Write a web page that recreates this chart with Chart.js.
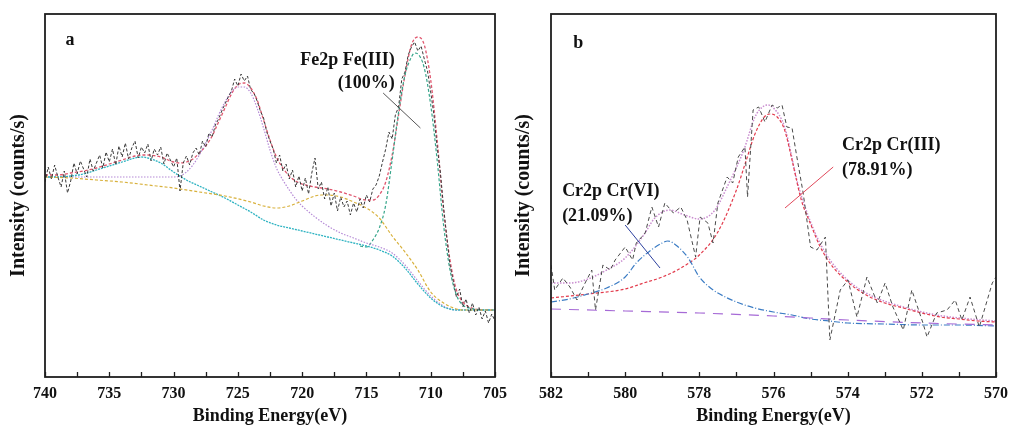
<!DOCTYPE html>
<html>
<head>
<meta charset="utf-8">
<script src="https://cdn.jsdelivr.net/npm/chart.js@4.4.1/dist/chart.umd.min.js"></script>
<style>
  body { margin: 0; background: #fff; width: 1012px; height: 433px; overflow: hidden; position: relative; }
  canvas { position: absolute; top: 0; }
  #chartA { left: 0; }
  #chartB { left: 500px; }
</style>
</head>
<body>
<canvas id="chartA" width="512" height="433"></canvas>
<canvas id="chartB" width="512" height="433"></canvas>
<script>
// ---- panel a : Fe2p ----
// raw spectrum, one value every 0.25 eV starting at 740 eV
const rawAStart = 740;
const rawAStep = 0.25;
const rawA = [
  195, 210, 198, 212, 200, 190, 206, 184, 196, 214, 203, 216, 208, 200, 218, 206,
  214, 222, 209, 225, 215, 228, 212, 231, 220, 234, 218, 229, 236, 219, 230, 224,
  233, 216, 228, 222, 230, 213, 224, 217, 210, 219, 186, 214, 221, 212, 224, 229,
  222, 236, 230, 244, 240, 252, 258, 266, 273, 280, 286, 298, 291, 303, 296, 301,
  287, 284, 276, 266, 259, 245, 236, 228, 214, 222, 206, 213, 198, 207, 190, 201,
  186, 199, 183, 204, 219, 188, 195, 178, 190, 171, 184, 166, 180, 170, 176, 162,
  174, 165, 178, 169, 182, 175, 188, 192, 201, 215, 228, 245, 238, 262, 270, 298,
  305, 322, 330, 335, 326, 331, 318, 306, 285, 262, 230, 205, 170, 140, 112, 96,
  80, 88, 70, 78, 64, 74, 62, 70, 58, 66, 54, 63, 56
];
// fitted envelope [eV, intensity]
const fitA = [
  [740, 202], [739, 202], [738, 204], [737, 206], [736, 209], [735, 213], [734, 217],
  [733, 221], [732.5, 222], [732, 222], [731, 220], [730, 215], [729.5, 214], [729, 215],
  [728.5, 218], [728, 224], [727.5, 231], [727, 241], [726.5, 255], [726, 269], [725.5, 283],
  [725, 292], [724.5, 294], [724, 289], [723.5, 277], [723, 257], [722.5, 237], [722, 220],
  [721.5, 209], [721, 201], [720.5, 196], [720, 193], [719, 190], [718, 188], [717, 185],
  [716, 181], [715, 177], [714.5, 177], [714, 182], [713.5, 195], [713, 222], [712.5, 262],
  [712, 302], [711.5, 332], [711, 340], [710.5, 332], [710, 297], [709.5, 237], [709, 167],
  [708.5, 117], [708, 87], [707.5, 75], [707, 70], [706, 67], [705, 67]
];
// Fe(III) main peak on background
const fe3A = [
  [715.5, 131], [715, 130], [714.5, 137], [714, 149], [713.5, 172], [713, 217], [712.5, 265],
  [712, 302], [711.5, 320], [711.25, 324], [711, 323], [710.5, 309], [710, 272], [709.5, 217],
  [709, 152], [708.5, 107], [708, 82], [707.5, 72], [707, 69], [706, 67], [705, 67]
];
// 2p1/2 peak on background
const p12A = [
  [740, 200], [730, 200], [729.5, 201], [729, 205], [728.5, 212], [728, 222], [727.5, 234],
  [727, 247], [726.5, 262], [726, 275], [725.5, 285], [725, 290], [724.5, 290], [724, 284],
  [723.5, 269], [723, 249], [722.5, 227], [722, 209], [721.5, 197], [721, 187], [720.5, 178],
  [720, 171], [719, 160], [718, 151], [717, 144], [716, 139], [715, 134], [714, 130],
  [713, 124], [712, 112], [711, 96], [710, 81], [709, 71], [708.5, 68], [708, 67], [705, 67]
];
// satellite near 732 eV on background
const satHighA = [
  [740, 200], [739, 200], [738, 201], [737, 203], [736, 207], [735, 211], [734, 215],
  [733, 219], [732.5, 220], [732, 219], [731, 214], [730, 205], [729, 197], [728, 191],
  [727, 185], [726, 179], [725, 172], [724, 165], [723, 157], [722, 152], [721, 149],
  [720, 146], [719, 143], [718, 140], [717, 137], [716, 134], [715, 131], [714, 127],
  [713, 121], [712, 109], [711, 93], [710, 79], [709, 70], [708.5, 68], [708, 67], [705, 67]
];
// satellite near 718 eV on background
const satLowA = [
  [740, 200], [738, 199], [736, 197], [734, 195], [732, 192], [730, 189], [728, 185],
  [726, 181], [724, 175], [723, 171], [722, 169], [721, 171], [720, 176], [719, 181],
  [718.5, 182], [718, 182], [717, 180], [716, 175], [715, 169], [714, 159], [713, 141],
  [712, 125], [711, 107], [710, 85], [709, 74], [708, 68], [707.5, 67], [705, 67]
];
const ticksA = { min: 705, max: 740, step: 2.5, labelEvery: 5 };
const notesA = [
  { lines: ['a'], x: 738.4, y: 337, align: 'left', gap: 0 },
  { lines: ['Fe2p Fe(III)', '(100%)'], x: 712.8, y: 317, align: 'right', gap: 23 }
];
const pointersA = [ { from: [713.7, 284], to: [710.8, 249], color: '#555555' } ];

// ---- panel b : Cr2p ----
const rawB = [
  [582.0, 112], [581.9, 87], [581.68, 99], [581.49, 90], [581.3, 77], [581.08, 94], [580.9, 107],
  [580.8, 67], [580.6, 112], [580.4, 107], [580.27, 117], [580.0, 130], [579.8, 117], [579.7, 134],
  [579.46, 144], [579.28, 170], [579.1, 150], [578.93, 174], [578.7, 164], [578.5, 170], [578.33, 157],
  [578.1, 120], [577.98, 160], [577.77, 154], [577.63, 134], [577.5, 174], [577.25, 200], [577.1, 194],
  [576.95, 220], [576.77, 230], [576.7, 180], [576.55, 267], [576.4, 270], [576.23, 255], [576.04, 272],
  [575.9, 269], [575.77, 272], [575.64, 250], [575.5, 249], [575.37, 220], [575.2, 184], [575.0, 130],
  [574.83, 127], [574.6, 140], [574.48, 37], [574.2, 87], [573.99, 97], [573.75, 60], [573.48, 100],
  [573.2, 74], [572.99, 94], [572.78, 70], [572.5, 47], [572.27, 87], [571.97, 54], [571.86, 40],
  [571.6, 64], [571.32, 67], [571.1, 77], [570.92, 57], [570.7, 80], [570.45, 50], [570.1, 94], [570.0, 100]
];
const fitB = [
  [582, 94], [581.5, 94], [581, 98], [580.5, 107], [580, 119], [579.5, 142], [579.2, 159],
  [578.8, 167], [578.4, 162], [578, 158], [577.6, 166], [577.2, 194], [576.8, 227], [576.5, 260],
  [576.3, 270], [576.15, 272], [576, 269], [575.7, 250], [575.35, 194], [575, 155], [574.6, 124],
  [574, 97], [573.4, 82], [572.5, 70], [571.6, 62], [570.7, 58], [570, 56]
];
const cr3B = [
  [582, 79], [581, 83], [580, 88], [579.5, 94], [579, 100], [578.5, 109], [578, 122], [577.5, 145],
  [577, 187], [576.75, 215], [576.5, 243], [576.25, 260], [576.1, 263], [575.9, 260], [575.7, 247],
  [575.5, 217], [575.25, 177], [575, 153], [574.75, 131], [574.5, 115], [574, 95], [573.5, 82],
  [573, 74], [572.5, 69], [572, 64], [571.5, 60], [571, 58], [570.5, 56], [570, 55]
];
const cr6B = [
  [582, 75], [581.5, 78], [581, 83], [580.5, 89], [580, 100], [579.7, 114], [579.3, 127],
  [579, 134], [578.85, 136], [578.6, 131], [578.3, 119], [578, 100], [577.7, 89], [577.5, 84],
  [577, 75], [576.5, 69], [576, 65], [575.5, 62], [575, 58], [574.5, 56], [574, 54], [573, 53],
  [572, 52], [571, 52], [570, 51]
];
const bgB = [ [582, 68], [580, 66], [578, 64], [576, 61], [574, 57], [572, 54], [570, 52] ];
const ticksB = { min: 570, max: 582, step: 1, labelEvery: 2 };
const notesB = [
  { lines: ['b'], x: 581.4, y: 334, align: 'left', gap: 0 },
  { lines: ['Cr2p Cr(VI)', '(21.09%)'], x: 581.7, y: 186, align: 'left', gap: 25 },
  { lines: ['Cr2p Cr(III)', '(78.91%)'], x: 574.15, y: 232, align: 'left', gap: 25 }
];
const pointersB = [
  { from: [580.0, 152], to: [579.06, 109], color: '#2b3f9e' },
  { from: [574.39, 210], to: [575.69, 169], color: '#e0485a' }
];

const yMax = 363;
const serif = "'Liberation Serif', 'Times New Roman', serif";

const pairs = arr => arr.map(p => ({ x: p[0], y: p[1] }));
const rawAPoints = rawA.map((v, i) => ({ x: rawAStart - i * rawAStep, y: v }));

const framePlugin = {
  id: 'frame',
  afterDraw(chart, args, opts) {
    const { ctx, chartArea: a, scales: { x, y } } = chart;
    ctx.save();
    ctx.strokeStyle = '#1e1e1e';
    ctx.lineWidth = 1.3;
    x.ticks.forEach(t => {
      const px = Math.round(x.getPixelForValue(t.value)) + 0.5;
      ctx.beginPath();
      ctx.moveTo(px, a.bottom);
      ctx.lineTo(px, a.bottom - 5);
      ctx.stroke();
    });
    ctx.lineWidth = 1.8;
    ctx.strokeRect(a.left, a.top, a.right - a.left, a.bottom - a.top);
    (opts.pointers || []).forEach(p => {
      ctx.strokeStyle = p.color;
      ctx.lineWidth = 1;
      ctx.beginPath();
      ctx.moveTo(x.getPixelForValue(p.from[0]), y.getPixelForValue(p.from[1]));
      ctx.lineTo(x.getPixelForValue(p.to[0]), y.getPixelForValue(p.to[1]));
      ctx.stroke();
    });
    ctx.fillStyle = '#111';
    ctx.font = 'bold 18px ' + serif;
    ctx.textBaseline = 'middle';
    (opts.notes || []).forEach(n => {
      ctx.textAlign = n.align;
      n.lines.forEach((line, i) => {
        ctx.fillText(line, x.getPixelForValue(n.x), y.getPixelForValue(n.y) + i * n.gap);
      });
    });
    ctx.restore();
  }
};

function line(data, color, dash, width) {
  return {
    data: data,
    borderColor: color,
    borderWidth: width || 1.2,
    borderDash: dash,
    pointRadius: 0,
    showLine: true,
    fill: false,
    cubicInterpolationMode: 'monotone'
  };
}

function makeChart(id, datasets, tk, yWidth, rightPad, yTitlePad, notes, pointers) {
  return new Chart(document.getElementById(id), {
    type: 'scatter',
    data: { datasets: datasets },
    plugins: [framePlugin],
    options: {
      responsive: false,
      animation: false,
      layout: { padding: { top: 14, right: rightPad, left: 0, bottom: 0 } },
      plugins: {
        legend: { display: false },
        tooltip: { enabled: false },
        frame: { notes: notes, pointers: pointers }
      },
      scales: {
        x: {
          type: 'linear',
          reverse: true,
          min: tk.min,
          max: tk.max,
          grid: { display: false, drawTicks: false },
          border: { display: false },
          ticks: {
            stepSize: tk.step,
            autoSkip: false,
            maxRotation: 0,
            padding: 7,
            color: '#111',
            font: { family: serif, size: 16, weight: 'bold' },
            callback: v => (Math.abs(v % tk.labelEvery) < 1e-6 ? String(v) : '')
          },
          title: {
            display: true,
            text: 'Binding Energy(eV)',
            color: '#111',
            font: { family: serif, size: 18, weight: 'bold' },
            padding: { top: 0, bottom: 6 }
          },
          afterFit: s => { s.height = 56; s.paddingLeft = 0; s.paddingRight = 0; }
        },
        y: {
          min: 0,
          max: yMax,
          grid: { display: false, drawTicks: false },
          border: { display: false },
          ticks: { display: false },
          title: {
            display: true,
            text: 'Intensity (counts/s)',
            color: '#111',
            font: { family: serif, size: 20, weight: 'bold' },
            padding: { top: yTitlePad, bottom: 0 }
          },
          afterFit: s => { s.width = yWidth; s.paddingTop = 0; s.paddingBottom = 0; }
        }
      }
    }
  });
}

makeChart('chartA', [
  Object.assign(line(rawAPoints, '#3a3a3a', [3, 2], 1), { cubicInterpolationMode: 'default', tension: 0 }),
  line(pairs(satLowA), '#d8b13c', [3, 2]),
  line(pairs(satHighA), '#2fb3c2', [2, 1], 1.3),
  line(pairs(p12A), '#b58ad6', [1.5, 1.5]),
  line(pairs(fe3A), '#35a58a', [3, 2]),
  line(pairs(fitA), '#e0566e', [3, 2], 1.3)
], ticksA, 45, 17, 7, notesA, pointersA);

makeChart('chartB', [
  Object.assign(line(pairs(rawB), '#4a4a4a', [4, 3], 1), { cubicInterpolationMode: 'default', tension: 0 }),
  line(pairs(bgB), '#a66ad6', [10, 8]),
  line(pairs(cr6B), '#3b7cc4', [6, 2, 1, 2]),
  line(pairs(cr3B), '#e23b4c', [3, 2]),
  line(pairs(fitB), '#c98ccf', [1.5, 1.5], 1.5)
], ticksB, 51, 16, 12, notesB, pointersB);
</script>
</body>
</html>
